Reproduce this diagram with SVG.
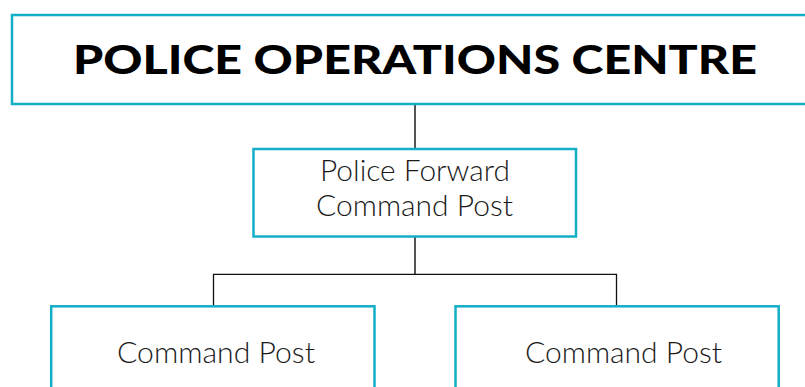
<svg xmlns="http://www.w3.org/2000/svg" width="805" height="387" viewBox="0 0 805 387">
<style>
.box{fill:#ffffff;stroke:#13afc6;stroke-width:2.5}
.title{font-family:Lato,"Open Sans","Liberation Sans",sans-serif;font-weight:900;font-size:40px;fill:#000}
.lbl{font-family:Lato,"Open Sans","Liberation Sans",sans-serif;font-weight:300;font-size:29px;fill:#1a1a1a}
.stem{stroke:#555;stroke-width:2;fill:none}
.brk{stroke:#111;stroke-width:1.3;fill:none}
</style>
<rect width="805" height="387" fill="#fff"/>
<g id="connectors">
<line class="stem" x1="415" y1="104" x2="415" y2="149"/>
<line class="stem" x1="415" y1="237" x2="415" y2="274"/>
<polyline class="brk" points="213.5,306 213.5,274.3 616.5,274.3 616.5,306"/>
</g>
<g id="node-poc">
<rect class="box" x="12" y="15" width="800" height="89"/>
<text class="title" x="73" y="73.5" textLength="684" lengthAdjust="spacingAndGlyphs">POLICE OPERATIONS CENTRE</text>
</g>
<g id="node-pfcp">
<rect class="box" x="253.5" y="149" width="322.5" height="87.5"/>
<text class="lbl" x="320" y="180.5" textLength="190" lengthAdjust="spacingAndGlyphs">Police Forward</text>
<text class="lbl" x="316" y="215.5" textLength="197" lengthAdjust="spacingAndGlyphs">Command Post</text>
</g>
<g id="node-cp-left">
<rect class="box" x="51.2" y="306.3" width="323.3" height="100"/>
<text class="lbl" x="117" y="363.3" textLength="198" lengthAdjust="spacingAndGlyphs">Command Post</text>
</g>
<g id="node-cp-right">
<rect class="box" x="455.5" y="306.3" width="323.2" height="100"/>
<text class="lbl" x="525" y="363.3" textLength="197" lengthAdjust="spacingAndGlyphs">Command Post</text>
</g>
</svg>
